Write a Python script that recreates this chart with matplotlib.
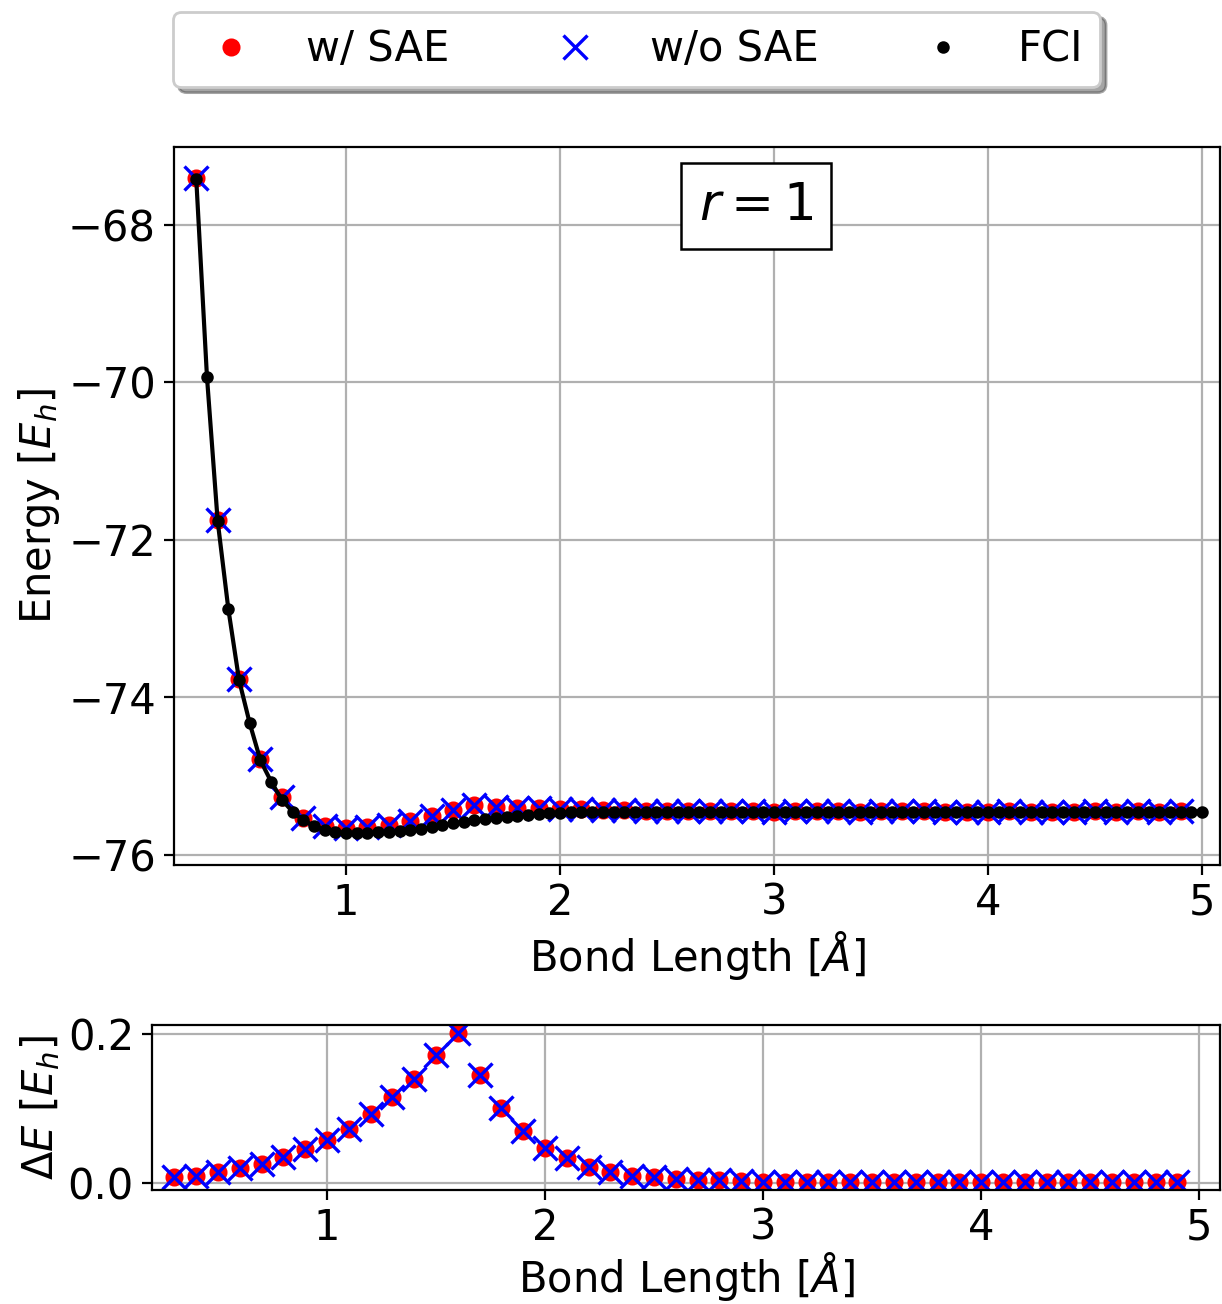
import matplotlib
matplotlib.use("Agg")
import matplotlib.pyplot as plt
from matplotlib.ticker import MultipleLocator

# ---------------- data ----------------
bond_fci = [0.30, 0.35, 0.40, 0.45, 0.50, 0.55, 0.60, 0.65, 0.70, 0.75,
            0.80, 0.85, 0.90, 0.95, 1.00, 1.05, 1.10, 1.15, 1.20, 1.25,
            1.30, 1.35, 1.40, 1.45, 1.50, 1.55, 1.60, 1.65, 1.70, 1.75,
            1.80, 1.85, 1.90, 1.95, 2.00, 2.05, 2.10, 2.15, 2.20, 2.25,
            2.30, 2.35, 2.40, 2.45, 2.50, 2.55, 2.60, 2.65, 2.70, 2.75,
            2.80, 2.85, 2.90, 2.95, 3.00, 3.05, 3.10, 3.15, 3.20, 3.25,
            3.30, 3.35, 3.40, 3.45, 3.50, 3.55, 3.60, 3.65, 3.70, 3.75,
            3.80, 3.85, 3.90, 3.95, 4.00, 4.05, 4.10, 4.15, 4.20, 4.25,
            4.30, 4.35, 4.40, 4.45, 4.50, 4.55, 4.60, 4.65, 4.70, 4.75,
            4.80, 4.85, 4.90, 4.95, 5.00]
energy_fci = [-67.42, -69.93, -71.76, -72.88, -73.78, -74.33, -74.80, -75.07, -75.30, -75.45,
              -75.56, -75.63, -75.68, -75.71, -75.72, -75.725, -75.72, -75.715, -75.71, -75.70,
              -75.685, -75.665, -75.645, -75.62, -75.60, -75.58, -75.56, -75.545, -75.53, -75.515,
              -75.50, -75.49, -75.48, -75.47, -75.465, -75.46, -75.455, -75.45, -75.45, -75.45,
              -75.45, -75.45, -75.45, -75.45, -75.45, -75.45, -75.45, -75.45, -75.45, -75.45,
              -75.45, -75.45, -75.45, -75.45, -75.45, -75.45, -75.45, -75.45, -75.45, -75.45,
              -75.45, -75.45, -75.45, -75.45, -75.45, -75.45, -75.45, -75.45, -75.45, -75.45,
              -75.45, -75.45, -75.45, -75.45, -75.45, -75.45, -75.45, -75.45, -75.45, -75.45,
              -75.45, -75.45, -75.45, -75.45, -75.45, -75.45, -75.45, -75.45, -75.45, -75.45,
              -75.45, -75.45, -75.45, -75.45, -75.45]

bond_vqe = [0.3, 0.4, 0.5, 0.6, 0.7, 0.8, 0.9, 1.0, 1.1, 1.2,
            1.3, 1.4, 1.5, 1.6, 1.7, 1.8, 1.9, 2.0, 2.1, 2.2,
            2.3, 2.4, 2.5, 2.6, 2.7, 2.8, 2.9, 3.0, 3.1, 3.2,
            3.3, 3.4, 3.5, 3.6, 3.7, 3.8, 3.9, 4.0, 4.1, 4.2,
            4.3, 4.4, 4.5, 4.6, 4.7, 4.8, 4.9]
energy_sae = [-67.41, -71.75, -73.77, -74.78, -75.27, -75.525, -75.635, -75.66, -75.65, -75.62,
              -75.57, -75.506, -75.43, -75.36, -75.385, -75.40, -75.41, -75.418, -75.42, -75.43,
              -75.435, -75.44, -75.443, -75.445, -75.445, -75.446, -75.447, -75.449, -75.448, -75.448,
              -75.448, -75.449, -75.448, -75.448, -75.448, -75.449, -75.449, -75.449, -75.448, -75.449,
              -75.449, -75.449, -75.448, -75.449, -75.448, -75.449, -75.448]
energy_nosae = [-67.41, -71.75, -73.77, -74.78, -75.27, -75.525, -75.635, -75.66, -75.65, -75.62,
                -75.57, -75.506, -75.43, -75.36, -75.385, -75.40, -75.41, -75.418, -75.42, -75.43,
                -75.435, -75.44, -75.443, -75.445, -75.445, -75.446, -75.447, -75.449, -75.448, -75.448,
                -75.448, -75.449, -75.448, -75.448, -75.448, -75.449, -75.449, -75.449, -75.448, -75.449,
                -75.449, -75.449, -75.448, -75.449, -75.448, -75.449, -75.448]
delta_sae = [0.008, 0.010, 0.015, 0.020, 0.026, 0.035, 0.045, 0.058, 0.073, 0.092,
             0.115, 0.139, 0.172, 0.201, 0.145, 0.101, 0.070, 0.047, 0.033, 0.022,
             0.015, 0.010, 0.0075, 0.005, 0.0045, 0.0035, 0.003, 0.001, 0.002, 0.002,
             0.002, 0.0015, 0.0015, 0.002, 0.0015, 0.001, 0.0015, 0.001, 0.0015, 0.001,
             0.001, 0.0015, 0.001, 0.0015, 0.001, 0.0015, 0.001]
delta_nosae = [0.008, 0.010, 0.015, 0.020, 0.026, 0.035, 0.045, 0.058, 0.073, 0.092,
               0.115, 0.139, 0.172, 0.201, 0.145, 0.101, 0.070, 0.047, 0.033, 0.022,
               0.015, 0.010, 0.0075, 0.005, 0.0045, 0.0035, 0.003, 0.001, 0.002, 0.002,
               0.002, 0.0015, 0.0015, 0.002, 0.0015, 0.001, 0.0015, 0.001, 0.0015, 0.001,
               0.001, 0.0015, 0.001, 0.0015, 0.001, 0.0015, 0.001]

labels = ["w/ SAE", "w/o SAE", "FCI"]

# ---------------- figure ----------------
plt.rcParams['font.family'] = ['DejaVu Sans']
plt.rcParams['font.size'] = 15
plt.rcParams['mathtext.fontset'] = 'dejavusans'
plt.rcParams['xtick.major.pad'] = 2.5
plt.rcParams['ytick.major.pad'] = 3.0
plt.rcParams['axes.labelpad'] = 2.0

fig = plt.figure(figsize=(6.11, 6.52), dpi=200)

ax1 = fig.add_axes([0.1424, 0.3367, 0.856, 0.5506])
ax2 = fig.add_axes([0.1244, 0.0874, 0.874, 0.1266])

h1, = ax1.plot(bond_vqe, energy_sae, 'o', color='red', ms=5.5, ls='none', label=labels[0])
h2, = ax1.plot(bond_vqe, energy_nosae, 'x', color='blue', ms=8.5, mew=1.2, ls='none', label=labels[1])
ax1.plot(bond_fci, energy_fci, '-', color='black', lw=1.5)
h3, = ax1.plot(bond_fci, energy_fci, '.', color='black', ms=7, ls='none', label=labels[2])

ax1.set_xlim(0.196, 5.084)
ax1.set_ylim(-76.127, -67.01)
ax1.xaxis.set_major_locator(MultipleLocator(1))
ax1.yaxis.set_major_locator(MultipleLocator(2))
ax1.grid(True, color='#b0b0b0', lw=0.8)
ax1.set_xlabel('Bond Length [$Å$]')
ax1.set_ylabel('Energy [$E_h$]')
ax1.text(0.556, 0.918, '$r = 1$', transform=ax1.transAxes, fontsize=18.5,
         ha='center', va='center',
         bbox=dict(boxstyle='square,pad=0.35', facecolor='white', edgecolor='black', lw=0.9))

ax2.plot(bond_vqe, delta_sae, 'o', color='red', ms=5.5, ls='none')
ax2.plot(bond_vqe, delta_nosae, 'x', color='blue', ms=8.5, mew=1.2, ls='none')
ax2.set_xlim(0.197, 5.096)
ax2.set_ylim(-0.0094, 0.2121)
ax2.xaxis.set_major_locator(MultipleLocator(1))
ax2.yaxis.set_major_locator(MultipleLocator(0.2))
ax2.grid(True, color='#b0b0b0', lw=0.8)
ax2.set_xlabel('Bond Length [$Å$]', labelpad=0.5)
ax2.set_ylabel(r'$\Delta E$ [$E_h$]')

fig.legend(handles=[h1, h2, h3], labels=labels, loc='upper center',
           bbox_to_anchor=(0.521, 0.991), borderaxespad=0.0, ncol=3,
           shadow=True, fancybox=True, fontsize=15)

fig.savefig('out.png', dpi=200)
